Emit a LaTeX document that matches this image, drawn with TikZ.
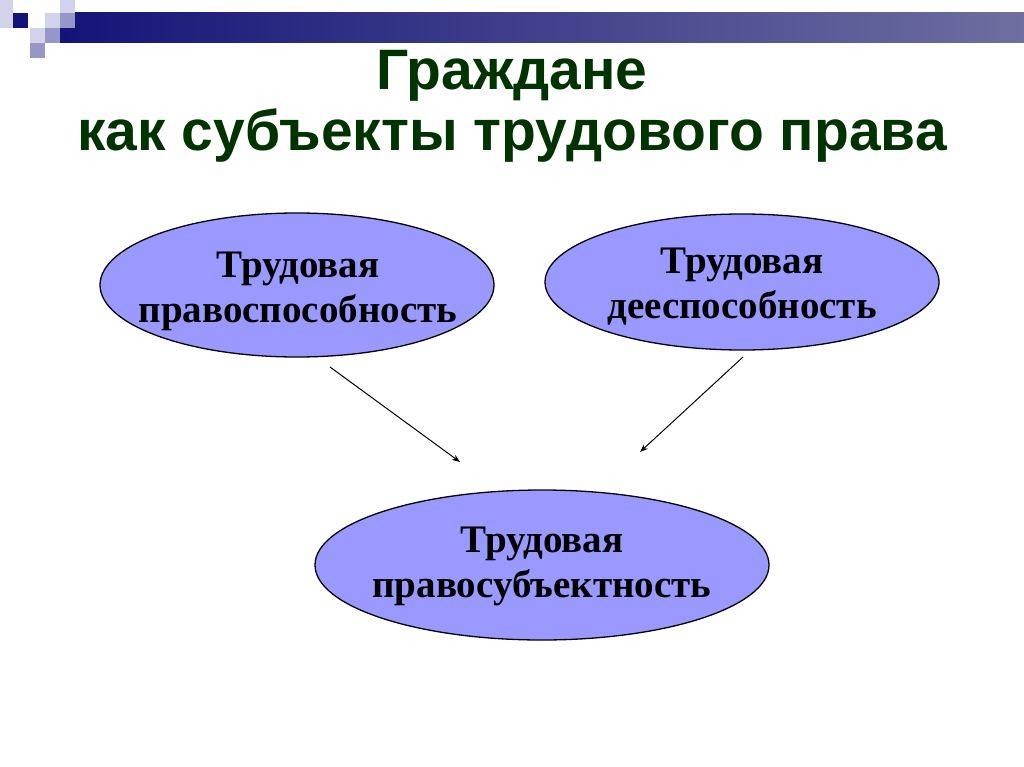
\documentclass[tikz,border=0pt]{standalone}
\usepackage{fontspec}
\setmainfont{Liberation Serif}
\newfontfamily\titlefont{Liberation Sans}
\usetikzlibrary{shapes.geometric,arrows.meta}
\definecolor{navy}{RGB}{20,20,120}
\definecolor{slate}{RGB}{110,110,160}
\definecolor{lilac}{RGB}{153,153,255}
\definecolor{pale}{RGB}{210,210,235}
\definecolor{midlav}{RGB}{150,150,200}
\definecolor{titlegreen}{RGB}{0,51,0}
\tikzset{
	blob/.style={ellipse,draw=black,line width=1.3pt,fill=lilac,inner sep=0pt},
	blobtext/.style={font=\bfseries\fontsize{39}{45}\selectfont,align=center},
	link/.style={-{Stealth[length=8pt,width=6pt]},line width=1pt}
}
\begin{document}
\begin{tikzpicture}[x=1pt,y=-1pt]
			\useasboundingbox(0,0)rectangle(1024,767);
			\fill[white](0,0)rectangle(1024,767);
			% top bar with squares
			\shade[left color=navy,right color=slate](60,13)rectangle(1024,43);
			\fill[pale](0,0)rectangle(13,28);
			\fill[navy](13,13)rectangle(28,28);
			\fill[pale](45,13)rectangle(60,28);
			\fill[pale](60,0)rectangle(75,13);
			\fill[midlav](60,13)rectangle(75,28);
			\fill[pale](30,28)rectangle(45,43);
			\fill[midlav](45,28)rectangle(60,43);
			\fill[midlav](30,43)rectangle(45,58);
			% title
			\node[text=titlegreen,font=\titlefont\bfseries\fontsize{57}{61}\selectfont,align=center](title)at(512,106){Граждане\\как субъекты трудового права};
			% ellipses
			\node[blob,minimum width=394pt,minimum height=144pt](left)at(297,285){};
			\node[blob,minimum width=394pt,minimum height=136pt](right)at(742,282){};
			\node[blob,minimum width=454pt,minimum height=150pt](bottom)at(542,565){};
			\node[blobtext](lefttext)at(298,291){Трудовая\\правоспособность};
			\node[blobtext](righttext)at(742,287){Трудовая\\дееспособность};
			\node[blobtext](bottomtext)at(542,566){Трудовая\\правосубъектность};
			% arrows
			\coordinate(a1)at(330,367);
			\coordinate(a2)at(460,462);
			\coordinate(b1)at(743,357);
			\coordinate(b2)at(640,452);
			\draw[link](a1)--(a2);
			\draw[link](b1)--(b2);
\end{tikzpicture}
\end{document}
